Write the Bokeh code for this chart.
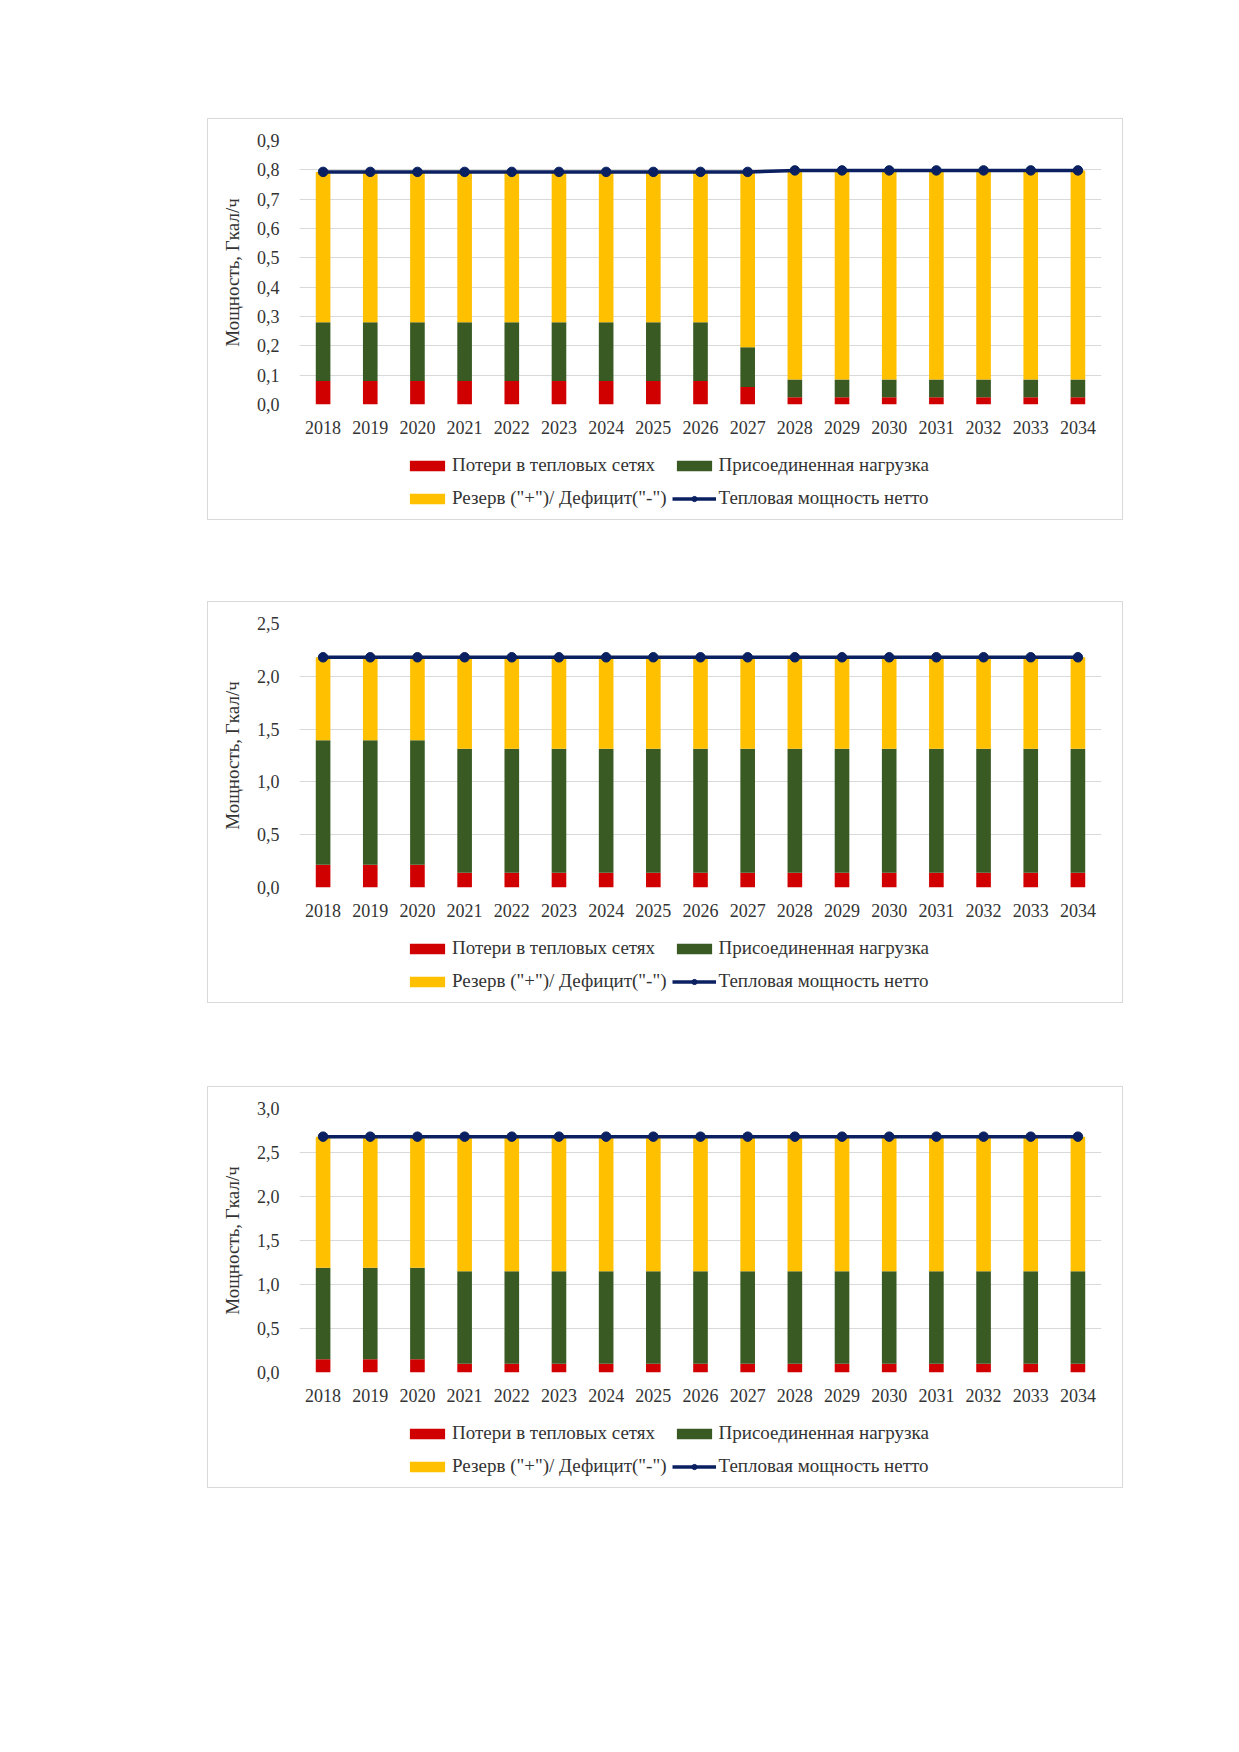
from bokeh.plotting import figure
from bokeh.models import ColumnDataSource, FixedTicker, Legend, LegendItem, Range1d, Spacer
from bokeh.layouts import column, row
from bokeh.embed import file_html
from bokeh.resources import INLINE

# ----------------------------
# Data (Гкал/ч)
# ----------------------------
years = ["2018", "2019", "2020", "2021", "2022", "2023", "2024", "2025", "2026",
         "2027", "2028", "2029", "2030", "2031", "2032", "2033", "2034"]

labels = ["Потери в тепловых сетях", "Присоединенная нагрузка",
          "Резерв (\"+\")/ Дефицит(\"-\")", "Тепловая мощность нетто"]

# chart 1
losses_1 = [0.08, 0.08, 0.08, 0.08, 0.08, 0.08, 0.08, 0.08, 0.08,
            0.06, 0.025, 0.025, 0.025, 0.025, 0.025, 0.025, 0.025]
load_1 = [0.20, 0.20, 0.20, 0.20, 0.20, 0.20, 0.20, 0.20, 0.20,
          0.135, 0.06, 0.06, 0.06, 0.06, 0.06, 0.06, 0.06]
reserve_1 = [0.513, 0.513, 0.513, 0.513, 0.513, 0.513, 0.513, 0.513, 0.513,
             0.598, 0.713, 0.713, 0.713, 0.713, 0.713, 0.713, 0.713]
net_1 = [0.793, 0.793, 0.793, 0.793, 0.793, 0.793, 0.793, 0.793, 0.793,
         0.793, 0.798, 0.798, 0.798, 0.798, 0.798, 0.798, 0.798]
yticks_1 = [0.0, 0.1, 0.2, 0.3, 0.4, 0.5, 0.6, 0.7, 0.8, 0.9]
ylabels_1 = ["0,0", "0,1", "0,2", "0,3", "0,4", "0,5", "0,6", "0,7", "0,8", "0,9"]

# chart 2
losses_2 = [0.215, 0.215, 0.215, 0.14, 0.14, 0.14, 0.14, 0.14, 0.14,
            0.14, 0.14, 0.14, 0.14, 0.14, 0.14, 0.14, 0.14]
load_2 = [1.18, 1.18, 1.18, 1.175, 1.175, 1.175, 1.175, 1.175, 1.175,
          1.175, 1.175, 1.175, 1.175, 1.175, 1.175, 1.175, 1.175]
reserve_2 = [0.785, 0.785, 0.785, 0.865, 0.865, 0.865, 0.865, 0.865, 0.865,
             0.865, 0.865, 0.865, 0.865, 0.865, 0.865, 0.865, 0.865]
net_2 = [2.18, 2.18, 2.18, 2.18, 2.18, 2.18, 2.18, 2.18, 2.18,
         2.18, 2.18, 2.18, 2.18, 2.18, 2.18, 2.18, 2.18]
yticks_2 = [0.0, 0.5, 1.0, 1.5, 2.0, 2.5]
ylabels_2 = ["0,0", "0,5", "1,0", "1,5", "2,0", "2,5"]

# chart 3
losses_3 = [0.15, 0.15, 0.15, 0.10, 0.10, 0.10, 0.10, 0.10, 0.10,
            0.10, 0.10, 0.10, 0.10, 0.10, 0.10, 0.10, 0.10]
load_3 = [1.04, 1.04, 1.04, 1.05, 1.05, 1.05, 1.05, 1.05, 1.05,
          1.05, 1.05, 1.05, 1.05, 1.05, 1.05, 1.05, 1.05]
reserve_3 = [1.49, 1.49, 1.49, 1.53, 1.53, 1.53, 1.53, 1.53, 1.53,
             1.53, 1.53, 1.53, 1.53, 1.53, 1.53, 1.53, 1.53]
net_3 = [2.68, 2.68, 2.68, 2.68, 2.68, 2.68, 2.68, 2.68, 2.68,
         2.68, 2.68, 2.68, 2.68, 2.68, 2.68, 2.68, 2.68]
yticks_3 = [0.0, 0.5, 1.0, 1.5, 2.0, 2.5, 3.0]
ylabels_3 = ["0,0", "0,5", "1,0", "1,5", "2,0", "2,5", "3,0"]

RED = "#D00000"
GREEN = "#3A5A24"
YELLOW = "#FFC000"
NAVY = "#0A2060"
GRID = "#D9D9D9"
FONT = "Liberation Serif"
TEXT = "#333333"


def draw_series(fig, src):
    bars = fig.vbar_stack(["losses", "load", "reserve"], x="year", width=0.31,
                          source=src, fill_color=[RED, GREEN, YELLOW], line_color=None)
    ln = fig.line("year", "net", source=src, color=NAVY, line_width=3.5)
    pts = fig.scatter("year", "net", source=src, size=9.5, color=NAVY)
    return bars, ln, pts


def make_chart(losses, load, reserve, net, yticks, ylabels):
    src = ColumnDataSource(dict(year=years, losses=losses, load=load,
                                reserve=reserve, net=net))
    p = figure(x_range=years, y_range=Range1d(yticks[0], yticks[-1]),
               width=914, height=330, output_backend="svg", toolbar_location=None,
               min_border_left=91, min_border_right=21, min_border_top=21,
               min_border_bottom=45)
    p.outline_line_color = None
    draw_series(p, src)

    ticker = FixedTicker(ticks=yticks)
    p.yaxis.ticker = ticker
    p.ygrid.ticker = ticker
    p.yaxis.major_label_overrides = dict(zip(yticks, ylabels))
    p.ygrid.grid_line_color = GRID
    p.xgrid.grid_line_color = None

    for ax in (p.xaxis, p.yaxis):
        ax.axis_line_color = None
        ax.major_tick_line_color = None
        ax.minor_tick_line_color = None
        ax.major_label_text_font = FONT
        ax.major_label_text_font_size = "18px"
        ax.major_label_text_color = TEXT
    p.xaxis.major_label_standoff = 10
    p.yaxis.major_label_standoff = 14
    p.yaxis.axis_label = "Мощность, Гкал/ч"
    p.yaxis.axis_label_text_font = FONT
    p.yaxis.axis_label_text_font_size = "19px"
    p.yaxis.axis_label_text_font_style = "normal"
    p.yaxis.axis_label_text_color = TEXT
    p.yaxis.axis_label_standoff = 11

    # legend strip under the chart: same series, kept out of its visible range
    q = figure(width=914, height=70, output_backend="svg", toolbar_location=None,
               x_axis_type=None, y_axis_type=None, x_range=p.x_range,
               y_range=Range1d(100, 101), min_border=0)
    q.outline_line_color = None
    q.xgrid.grid_line_color = None
    q.ygrid.grid_line_color = None
    bars, ln, pts = draw_series(q, src)

    legend = Legend(items=[LegendItem(label=labels[0], renderers=[bars[0]]),
                           LegendItem(label=labels[1], renderers=[bars[1]]),
                           LegendItem(label=labels[2], renderers=[bars[2]]),
                           LegendItem(label=labels[3], renderers=[ln, pts])],
                    orientation="horizontal", ncols=2, location=(106, 7),
                    glyph_width=44, glyph_height=13, label_height=28, spacing=5,
                    label_standoff=3, padding=0, margin=0,
                    border_line_color=None, background_fill_alpha=0,
                    label_text_font=FONT, label_text_font_size="19px",
                    label_text_color=TEXT)
    q.add_layout(legend, "center")

    box = column(p, q)
    box.styles = {"border": "1px solid " + GRID}
    return box


c1 = make_chart(losses_1, load_1, reserve_1, net_1, yticks_1, ylabels_1)
c2 = make_chart(losses_2, load_2, reserve_2, net_2, yticks_2, ylabels_2)
c3 = make_chart(losses_3, load_3, reserve_3, net_3, yticks_3, ylabels_3)

p = column(Spacer(height=118),
           row(Spacer(width=207), c1),
           Spacer(height=81),
           row(Spacer(width=207), c2),
           Spacer(height=83),
           row(Spacer(width=207), c3))

open("out.html", "w").write(file_html(p, INLINE))
